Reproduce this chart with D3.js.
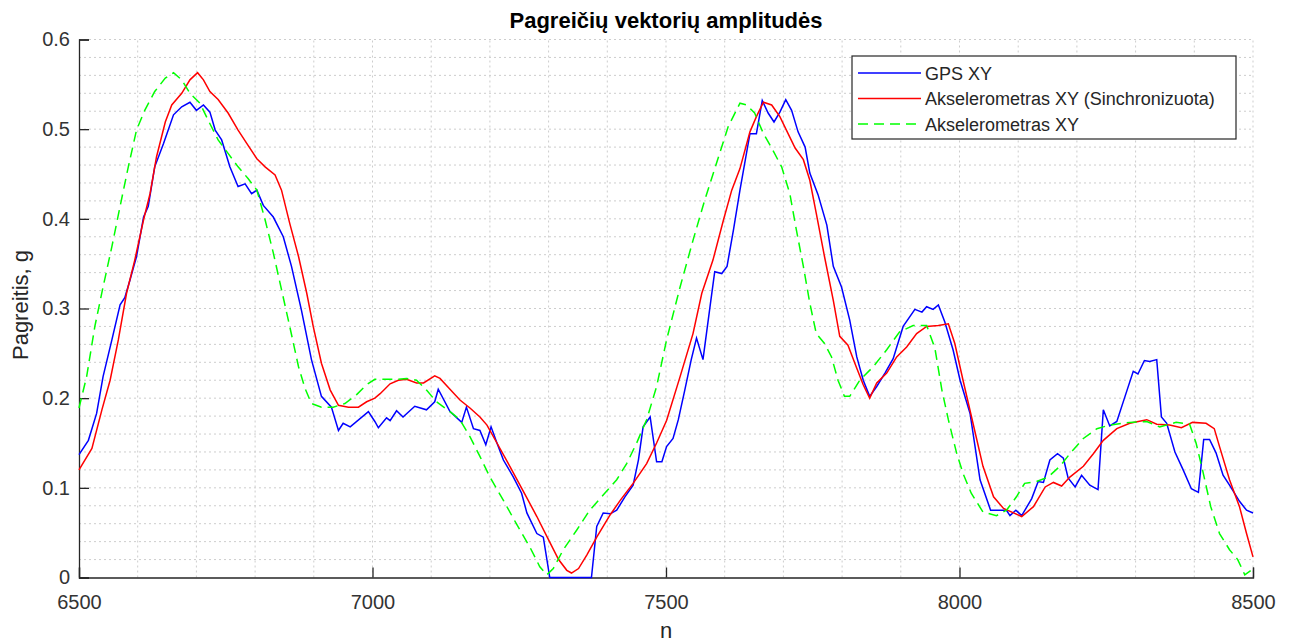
<!DOCTYPE html>
<html>
<head>
<meta charset="utf-8">
<script src="https://cdn.jsdelivr.net/npm/d3@7"></script>
<style>
  body { margin: 0; background: #fff; }
  text { font-family: "Liberation Sans", Arial, sans-serif; fill: #262626; }
</style>
</head>
<body>
<div id="chart"></div>
<script>
// Axis ticks
var xTicks = [6500, 7000, 7500, 8000, 8500];
var yTicks = [0, 0.1, 0.2, 0.3, 0.4, 0.5, 0.6];

// Series: [n, amplitude]
var gpsXY = [[6500,0.137],[6516,0.153],[6530,0.183],[6541,0.224],[6556,0.265],[6570,0.304],[6578,0.312],[6587,0.332],[6598,0.358],[6610,0.402],[6618,0.414],[6629,0.458],[6644,0.484],[6661,0.516],[6675,0.525],[6689,0.530],[6700,0.521],[6712,0.527],[6723,0.519],[6732,0.499],[6743,0.488],[6757,0.458],[6771,0.436],[6783,0.439],[6794,0.428],[6803,0.432],[6814,0.415],[6831,0.402],[6848,0.380],[6862,0.347],[6879,0.298],[6896,0.243],[6913,0.202],[6930,0.190],[6942,0.164],[6950,0.172],[6962,0.168],[6993,0.185],[7004,0.174],[7010,0.167],[7024,0.178],[7030,0.175],[7041,0.186],[7052,0.179],[7072,0.191],[7092,0.187],[7106,0.196],[7112,0.210],[7132,0.185],[7152,0.173],[7160,0.190],[7172,0.166],[7183,0.164],[7193,0.148],[7202,0.168],[7212,0.150],[7223,0.131],[7240,0.112],[7254,0.094],[7263,0.072],[7280,0.049],[7291,0.045],[7302,0],[7373,0],[7382,0.057],[7393,0.072],[7405,0.071],[7416,0.075],[7430,0.090],[7444,0.103],[7453,0.131],[7461,0.168],[7473,0.179],[7484,0.129],[7493,0.129],[7501,0.146],[7512,0.155],[7521,0.176],[7532,0.209],[7543,0.243],[7552,0.267],[7563,0.243],[7575,0.302],[7583,0.341],[7595,0.339],[7604,0.347],[7615,0.388],[7626,0.432],[7643,0.495],[7654,0.495],[7664,0.532],[7674,0.518],[7684,0.508],[7694,0.519],[7704,0.533],[7714,0.521],[7725,0.497],[7737,0.480],[7745,0.451],[7759,0.427],[7774,0.393],[7785,0.347],[7799,0.324],[7813,0.287],[7825,0.246],[7836,0.220],[7847,0.202],[7859,0.213],[7873,0.228],[7887,0.244],[7904,0.280],[7924,0.299],[7936,0.296],[7944,0.302],[7955,0.299],[7964,0.304],[7975,0.285],[7989,0.254],[8001,0.220],[8018,0.183],[8035,0.109],[8053,0.075],[8080,0.075],[8086,0.069],[8096,0.075],[8106,0.069],[8123,0.088],[8134,0.107],[8143,0.106],[8154,0.131],[8167,0.138],[8177,0.133],[8185,0.111],[8197,0.101],[8208,0.114],[8222,0.103],[8236,0.098],[8245,0.187],[8256,0.169],[8268,0.174],[8282,0.202],[8296,0.230],[8304,0.227],[8315,0.242],[8324,0.241],[8336,0.243],[8344,0.179],[8353,0.172],[8367,0.140],[8381,0.120],[8395,0.099],[8407,0.095],[8416,0.154],[8426,0.154],[8437,0.139],[8449,0.114],[8460,0.103],[8477,0.085],[8489,0.075],[8500,0.072]];

var accSync = [[6500,0.120],[6522,0.144],[6539,0.187],[6553,0.220],[6567,0.265],[6581,0.317],[6595,0.354],[6610,0.399],[6621,0.428],[6632,0.469],[6647,0.508],[6658,0.527],[6675,0.540],[6689,0.555],[6702,0.563],[6712,0.555],[6723,0.542],[6737,0.533],[6754,0.518],[6771,0.499],[6788,0.482],[6803,0.467],[6817,0.458],[6834,0.449],[6845,0.432],[6859,0.395],[6874,0.358],[6888,0.317],[6899,0.280],[6913,0.239],[6928,0.209],[6942,0.192],[6959,0.190],[6976,0.190],[6990,0.196],[7004,0.200],[7013,0.205],[7030,0.216],[7044,0.220],[7058,0.221],[7075,0.217],[7087,0.217],[7106,0.225],[7115,0.222],[7132,0.210],[7149,0.198],[7166,0.189],[7183,0.179],[7195,0.170],[7212,0.150],[7234,0.124],[7257,0.096],[7280,0.068],[7300,0.042],[7317,0.020],[7331,0.008],[7339,0.005],[7351,0.010],[7365,0.025],[7382,0.045],[7405,0.070],[7422,0.086],[7444,0.105],[7467,0.127],[7484,0.150],[7501,0.175],[7524,0.224],[7546,0.272],[7561,0.317],[7580,0.354],[7598,0.399],[7612,0.432],[7626,0.456],[7643,0.497],[7654,0.514],[7666,0.530],[7680,0.527],[7694,0.514],[7708,0.495],[7720,0.479],[7734,0.466],[7745,0.443],[7756,0.406],[7770,0.358],[7785,0.309],[7796,0.269],[7810,0.259],[7824,0.235],[7836,0.215],[7847,0.200],[7859,0.217],[7876,0.228],[7893,0.246],[7910,0.257],[7927,0.272],[7944,0.280],[7964,0.281],[7981,0.283],[7992,0.261],[8006,0.220],[8023,0.172],[8040,0.124],[8058,0.090],[8075,0.077],[8092,0.072],[8106,0.068],[8126,0.079],[8146,0.101],[8160,0.106],[8174,0.102],[8188,0.112],[8211,0.124],[8228,0.138],[8245,0.153],[8268,0.166],[8290,0.172],[8319,0.176],[8336,0.171],[8358,0.170],[8378,0.167],[8397,0.173],[8420,0.172],[8434,0.166],[8443,0.146],[8460,0.109],[8477,0.079],[8489,0.049],[8500,0.023]];

var accXY = [[6500,0.189],[6513,0.224],[6527,0.280],[6541,0.324],[6556,0.369],[6570,0.414],[6584,0.458],[6598,0.499],[6612,0.521],[6629,0.542],[6647,0.557],[6661,0.563],[6675,0.555],[6689,0.540],[6706,0.529],[6720,0.510],[6737,0.488],[6754,0.473],[6771,0.458],[6788,0.445],[6803,0.432],[6817,0.399],[6831,0.362],[6845,0.321],[6859,0.280],[6874,0.235],[6885,0.211],[6896,0.194],[6913,0.190],[6933,0.190],[6953,0.194],[6973,0.204],[6990,0.215],[7004,0.221],[7018,0.221],[7041,0.221],[7058,0.222],[7075,0.220],[7092,0.209],[7109,0.196],[7132,0.185],[7149,0.176],[7166,0.157],[7183,0.135],[7200,0.112],[7223,0.086],[7245,0.060],[7268,0.034],[7285,0.012],[7297,0.003],[7308,0.010],[7325,0.031],[7348,0.053],[7370,0.075],[7393,0.092],[7416,0.109],[7433,0.127],[7450,0.150],[7467,0.176],[7484,0.213],[7501,0.265],[7524,0.324],[7546,0.376],[7566,0.421],[7586,0.462],[7606,0.503],[7626,0.529],[7637,0.527],[7651,0.518],[7666,0.495],[7680,0.479],[7697,0.458],[7711,0.428],[7722,0.388],[7734,0.347],[7745,0.306],[7756,0.272],[7770,0.261],[7782,0.246],[7793,0.220],[7804,0.202],[7813,0.202],[7830,0.220],[7853,0.235],[7876,0.254],[7898,0.274],[7921,0.281],[7944,0.281],[7958,0.256],[7970,0.209],[7981,0.176],[7995,0.139],[8006,0.116],[8020,0.094],[8040,0.073],[8063,0.069],[8080,0.075],[8097,0.090],[8111,0.105],[8131,0.107],[8151,0.112],[8171,0.124],[8188,0.138],[8211,0.155],[8234,0.166],[8256,0.170],[8290,0.173],[8319,0.174],[8341,0.168],[8369,0.173],[8392,0.171],[8403,0.150],[8414,0.120],[8428,0.079],[8443,0.049],[8460,0.031],[8474,0.020],[8486,0.003],[8497,0.008]];

var seriesNames = ['GPS XY', 'Akselerometras XY (Sinchronizuota)', 'Akselerometras XY'];
var seriesColors = ['#0000ff', '#ff0000', '#00ff00'];
var seriesDash = [null, null, '10,6'];

var width = 1292, height = 643;
var margin = {left: 79, right: 39, top: 39.5, bottom: 65.5};

var svg = d3.select('#chart').append('svg')
    .attr('width', width)
    .attr('height', height);

var x = d3.scaleLinear().domain([6500, 8500]).range([margin.left, width - margin.right]);
var y = d3.scaleLinear().domain([0, 0.6]).range([height - margin.bottom, margin.top]);

//Dotted grid (every 100 in n, every 0.02 in g)
var grid = svg.append('g').attr('class', 'grid');
d3.range(6600, 8501, 100).forEach(function(v) {
    grid.append('line')
        .attr('x1', x(v)).attr('x2', x(v))
        .attr('y1', y(0)).attr('y2', y(0.6))
        .style('stroke', '#cdcdcd').style('stroke-width', 1)
        .style('stroke-dasharray', '2,3');
});
d3.range(1, 31).forEach(function(i) {
    var v = i * 0.02;
    grid.append('line')
        .attr('x1', x(6500)).attr('x2', x(8500))
        .attr('y1', y(v)).attr('y2', y(v))
        .style('stroke', '#cdcdcd').style('stroke-width', 1)
        .style('stroke-dasharray', '2,3');
});

//Axes, ticks pointing inwards
var xAxis = svg.append('g')
    .attr('transform', 'translate(0,' + y(0) + ')')
    .call(d3.axisBottom(x).tickValues(xTicks).tickSize(-10).tickPadding(17).tickFormat(d3.format('d')));
var yAxis = svg.append('g')
    .attr('transform', 'translate(' + x(6500) + ',0)')
    .call(d3.axisLeft(y).tickValues(yTicks).tickSize(-10).tickPadding(9).tickFormat(function(d) { return d === 0 ? '0' : d3.format('.1f')(d); }));

[xAxis, yAxis].forEach(function(a) {
    a.select('.domain').style('stroke', '#262626').style('stroke-width', 1.3);
    a.selectAll('.tick line').style('stroke', '#262626').style('stroke-width', 1.3);
    a.selectAll('.tick text').style('font-size', '20px').style('fill', '#333')
        .style('font-family', '"Liberation Sans", Arial, sans-serif');
});

//Lines
var line = d3.line()
    .x(function(d) { return x(d[0]); })
    .y(function(d) { return y(d[1]); });

var allSeries = [gpsXY, accSync, accXY];
allSeries.forEach(function(data, i) {
    svg.append('path')
        .datum(data)
        .attr('d', line)
        .style('fill', 'none')
        .style('stroke', seriesColors[i])
        .style('stroke-width', 1.5)
        .style('stroke-dasharray', seriesDash[i]);
});

//Title and axis labels
svg.append('text')
    .attr('x', (x(6500) + x(8500)) / 2).attr('y', 28)
    .attr('text-anchor', 'middle')
    .style('font-size', '22px').style('font-weight', 'bold').style('fill', '#000')
    .text('Pagreičių vektorių amplitudės');

svg.append('text')
    .attr('x', (x(6500) + x(8500)) / 2).attr('y', 638)
    .attr('text-anchor', 'middle')
    .style('font-size', '22px')
    .text('n');

svg.append('text')
    .attr('transform', 'translate(28,305) rotate(-90)')
    .attr('text-anchor', 'middle')
    .style('font-size', '22px')
    .text('Pagreitis, g');

//Legend
var legend = svg.append('g').attr('transform', 'translate(852,56)');
legend.append('rect')
    .attr('width', 384).attr('height', 83)
    .style('fill', '#fff').style('stroke', '#262626').style('stroke-width', 1.2);

seriesNames.forEach(function(name, i) {
    var ly = 17 + i * 25.5;
    legend.append('line')
        .attr('x1', 6).attr('x2', 69)
        .attr('y1', ly).attr('y2', ly)
        .style('stroke', seriesColors[i]).style('stroke-width', 1.5)
        .style('stroke-dasharray', seriesDash[i]);
    legend.append('text')
        .attr('x', 73).attr('y', ly + 6.5)
        .style('font-size', '18px')
        .text(name);
});
</script>
</body>
</html>
